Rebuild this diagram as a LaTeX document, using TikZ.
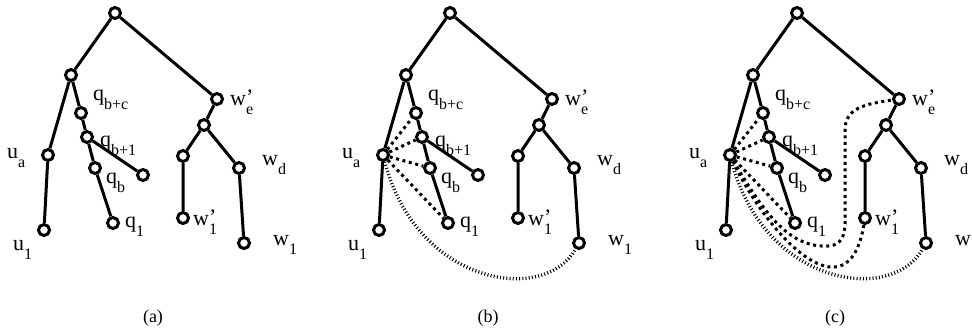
\documentclass[tikz,border=0pt]{standalone}
\usepackage{fontspec}
\setmainfont{Liberation Serif}
\usetikzlibrary{positioning}

% vertex name: letter, optional prime, subscript
\newcommand{\vname}[3][]{#2\rlap{\raisebox{1pt}{#1}}\raisebox{-9pt}{\fontsize{16}{16}\selectfont #3}}

\begin{document}
\begin{tikzpicture}[x=1pt, y=-1pt,
  vert/.style={circle, draw, fill=white, line width=3pt, inner sep=0pt, minimum size=11pt},
  edge/.style={line width=3pt},
  fatdots/.style={line width=3pt, dash pattern=on 3pt off 3.6pt},
  finedots/.style={line width=3.4pt, dash pattern=on 1pt off 2.2pt},
  vlabel/.style={inner sep=0pt, anchor=base west, font=\fontsize{22}{22}\selectfont},
  caption/.style={inner sep=0pt, anchor=base, font=\fontsize{18}{18}\selectfont}]
\useasboundingbox (0,0) rectangle (972,333);
% the same tree in the three panels
\foreach \p/\dx in {a/0, b/335, c/682} {
  \begin{scope}[xshift=\dx]
  \node[vert] (\p-root) at (115,13) {};
  \node[vert] (\p-l) at (71,75) {};
  \node[vert] (\p-qbc) at (81,113) {};
  \node[vert] (\p-qb1) at (87,137) {};
  \node[vert] (\p-ua) at (48,155) {};
  \node[vert] (\p-qb) at (95,168) {};
  \node[vert] (\p-qx) at (143,175) {};
  \node[vert] (\p-q1) at (113,223) {};
  \node[vert] (\p-u1) at (44,230) {};
  \node[vert] (\p-we) at (217,99) {};
  \node[vert] (\p-w) at (204,125) {};
  \node[vert] (\p-wc) at (183,156) {};
  \node[vert] (\p-wd) at (239,168) {};
  \node[vert] (\p-w1p) at (183,218) {};
  \node[vert] (\p-w1) at (244,243) {};
  \draw[edge] (\p-root) -- (\p-l) (\p-root) -- (\p-we);
  \draw[edge] (\p-l) -- (\p-ua) -- (\p-u1);
  \draw[edge] (\p-l) -- (\p-qbc) -- (\p-qb1) -- (\p-qb) -- (\p-q1);
  \draw[edge] (\p-qb1) -- (\p-qx);
  \draw[edge] (\p-we) -- (\p-w) -- (\p-wc) -- (\p-w1p);
  \draw[edge] (\p-w) -- (\p-wd) -- (\p-w1);
  \node[vlabel] (\p-lqbc) at (93,100) {\vname{q}{b+c}};
  \node[vlabel] (\p-lqb1) at (100,146) {\vname{q}{b+1}};
  \node[vlabel] (\p-lua) at (7,158) {\vname{u}{a}};
  \node[vlabel] (\p-lqb) at (106,183) {\vname{q}{b}};
  \node[vlabel] (\p-lq1) at (125,227) {\vname{q}{1}};
  \node[vlabel] (\p-lu1) at (13,250) {\vname{u}{1}};
  \node[vlabel] (\p-lwe) at (230,105) {\vname[']{w}{e}};
  \node[vlabel] (\p-lwd) at (262,165) {\vname{w}{d}};
  \node[vlabel] (\p-lw1p) at (193,225) {\vname[']{w}{1}};
  \node[vlabel] (\p-lw1) at (273,245) {\vname{w}{1}};
  \node[caption] (\p-cap) at (153,322) {(\p)};
  \end{scope}
}
% added edges
\foreach \p in {b,c}
  \foreach \t in {qbc,qb1,qb,q1}
    \draw[fatdots] (\p-ua) -- (\p-\t);
\draw[finedots] (b-ua) .. controls +(34,130) and +(-35,62) .. (b-w1);
\draw[finedots] (c-ua) .. controls +(34,130) and +(-35,62) .. (c-w1);
\draw[fatdots] (c-ua) .. controls +(37,80) and +(-17,102) .. (c-w1p);
\begin{scope}[xshift=682]
\draw[fatdots] (c-ua) .. controls (83,215) and (108,248) .. (146,246)
  .. controls (166,245) and (163,225) .. (163,205) -- (163,130)
  .. controls (163,108) and (183,104) .. (c-we);
\end{scope}
\end{tikzpicture}
\end{document}
